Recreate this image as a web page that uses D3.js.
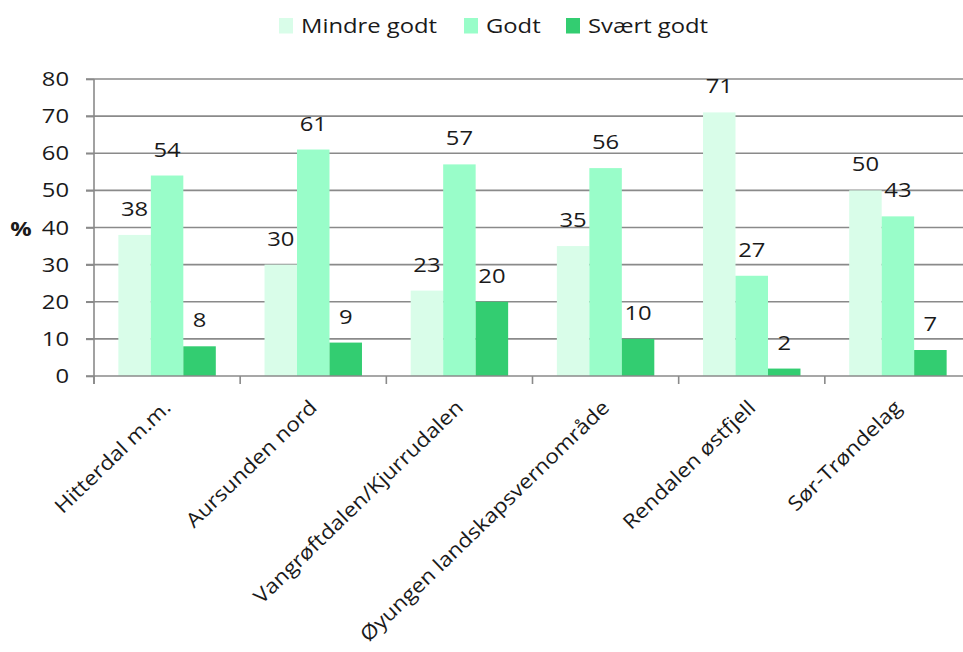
<!DOCTYPE html>
<html>
<head>
<meta charset="utf-8">
<script src="https://cdn.jsdelivr.net/npm/d3@7/dist/d3.min.js"></script>
<style>
  html, body { margin: 0; padding: 0; background: #fff; }
  svg { display: block; font-family: "Open Sans", "Noto Sans", sans-serif; }
</style>
</head>
<body>
<svg id="chart" width="963" height="652"></svg>
<script>
// Areas surveyed
const categories = [
  "Hitterdal m.m.",
  "Aursunden nord",
  "Vangrøftdalen/Kjurrudalen",
  "Øyungen landskapsvernområde",
  "Rendalen østfjell",
  "Sør-Trøndelag"
];

// Series names and values (%)
const seriesNames = ["Mindre godt", "Godt", "Svært godt"];
const mindreGodt = [38, 30, 23, 35, 71, 50];
const godt       = [54, 61, 57, 56, 27, 43];
const svaertGodt = [8, 9, 20, 10, 2, 7];
const seriesColors = ["#d9fde9", "#99fdc9", "#33cd71"];

const yTicks = [0, 10, 20, 30, 40, 50, 60, 70, 80];

const seriesValues = [mindreGodt, godt, svaertGodt];
const rows = categories.map((c, i) => ({
  category: c,
  values: seriesNames.map((s, j) => ({ series: s, idx: j, value: seriesValues[j][i] }))
}));

const svg = d3.select("#chart");
const margin = { left: 94, right: -8, top: 79, bottom: 276 };
const width = 963 - margin.left - margin.right;
const height = 652 - margin.top - margin.bottom;

const fontSize = 20;
const textColor = "#1a1a1a";
const axisColor = "#8a8a8a";
const stretch = 1.19;      // wide lettering
const labelStretch = 1.13; // category labels

const g = svg.append("g").attr("transform", `translate(${margin.left},${margin.top})`);

const x0 = d3.scaleBand().domain(categories).range([0, width]);
const x1 = d3.scaleBand().domain(seriesNames).range([0, x0.bandwidth()]).paddingInner(0).paddingOuter(0.75);
const y = d3.scaleLinear().domain([0, 80]).range([height, 0]);

// Horizontal gridlines
g.append("g")
  .selectAll("line")
  .data(yTicks.filter(t => t > 0))
  .join("line")
  .attr("x1", -8).attr("x2", width)
  .attr("y1", d => y(d)).attr("y2", d => y(d))
  .attr("stroke", axisColor).attr("stroke-width", 1.6);

// Bars
const groups = g.selectAll(".grp")
  .data(rows)
  .join("g")
  .attr("class", "grp")
  .attr("transform", d => `translate(${x0(d.category)},0)`);

groups.selectAll("rect")
  .data(d => d.values)
  .join("rect")
  .attr("x", d => x1(d.series))
  .attr("width", x1.bandwidth())
  .attr("y", d => y(d.value))
  .attr("height", d => height - y(d.value))
  .attr("fill", d => seriesColors[d.idx]);

// Value labels
groups.selectAll("text.val")
  .data(d => d.values)
  .join("text")
  .attr("class", "val")
  .attr("transform", d => `translate(${x1(d.series) + x1.bandwidth() / 2},${y(d.value) - 19}) scale(${stretch},1)`)
  .attr("text-anchor", "middle")
  .attr("font-size", fontSize)
  .attr("fill", textColor)
  .text(d => d.value);

// Y axis line and ticks
const yAxis = d3.axisLeft(y).tickValues(yTicks).tickSize(8).tickFormat("");
const yg = g.append("g").call(yAxis);
yg.select(".domain").attr("stroke", axisColor).attr("stroke-width", 1.6).attr("d", `M0,${height + 8}V${y(80)}`);
yg.selectAll(".tick line").attr("stroke", axisColor).attr("stroke-width", 1.6);

// Y tick labels
g.append("g")
  .selectAll("text")
  .data(yTicks)
  .join("text")
  .attr("transform", d => `translate(-25,${y(d) + 7}) scale(${stretch},1)`)
  .attr("text-anchor", "end")
  .attr("font-size", fontSize)
  .attr("fill", textColor)
  .text(d => d);

// X axis line and category separators
const xAxis = d3.axisBottom(x0).tickSize(0).tickFormat("");
const xg = g.append("g").attr("transform", `translate(0,${height})`).call(xAxis);
xg.select(".domain").attr("stroke", axisColor).attr("stroke-width", 1.6).attr("d", `M-8,0H${width}`);
xg.selectAll(".sep")
  .data(categories)
  .join("line")
  .attr("class", "sep")
  .attr("x1", d => x0(d)).attr("x2", d => x0(d))
  .attr("y1", 0).attr("y2", 8)
  .attr("stroke", axisColor).attr("stroke-width", 1.6);

// Rotated category labels
g.append("g")
  .selectAll("text")
  .data(categories)
  .join("text")
  .attr("transform", d => `translate(${x0(d) + x0.bandwidth() / 2 + 5},${height + 33}) rotate(-44) scale(${labelStretch},1)`)
  .attr("text-anchor", "end")
  .attr("font-size", fontSize)
  .attr("fill", textColor)
  .text(d => d);

// Y axis title
svg.append("text")
  .attr("transform", `translate(21,236) scale(${stretch},1)`)
  .attr("text-anchor", "middle")
  .attr("font-size", fontSize)
  .attr("font-weight", "bold")
  .attr("fill", textColor)
  .text("%");

// Legend
const legendX = [279, 464, 566];
const items = svg.append("g")
  .selectAll("g")
  .data(seriesNames)
  .join("g")
  .attr("transform", (d, i) => `translate(${legendX[i]},18)`);
items.append("rect")
  .attr("width", 14).attr("height", 15.5)
  .attr("fill", (d, i) => seriesColors[i]);
items.append("text")
  .attr("transform", `translate(22,15) scale(${stretch},1)`)
  .attr("font-size", fontSize)
  .attr("fill", textColor)
  .text(d => d);
</script>
</body>
</html>
